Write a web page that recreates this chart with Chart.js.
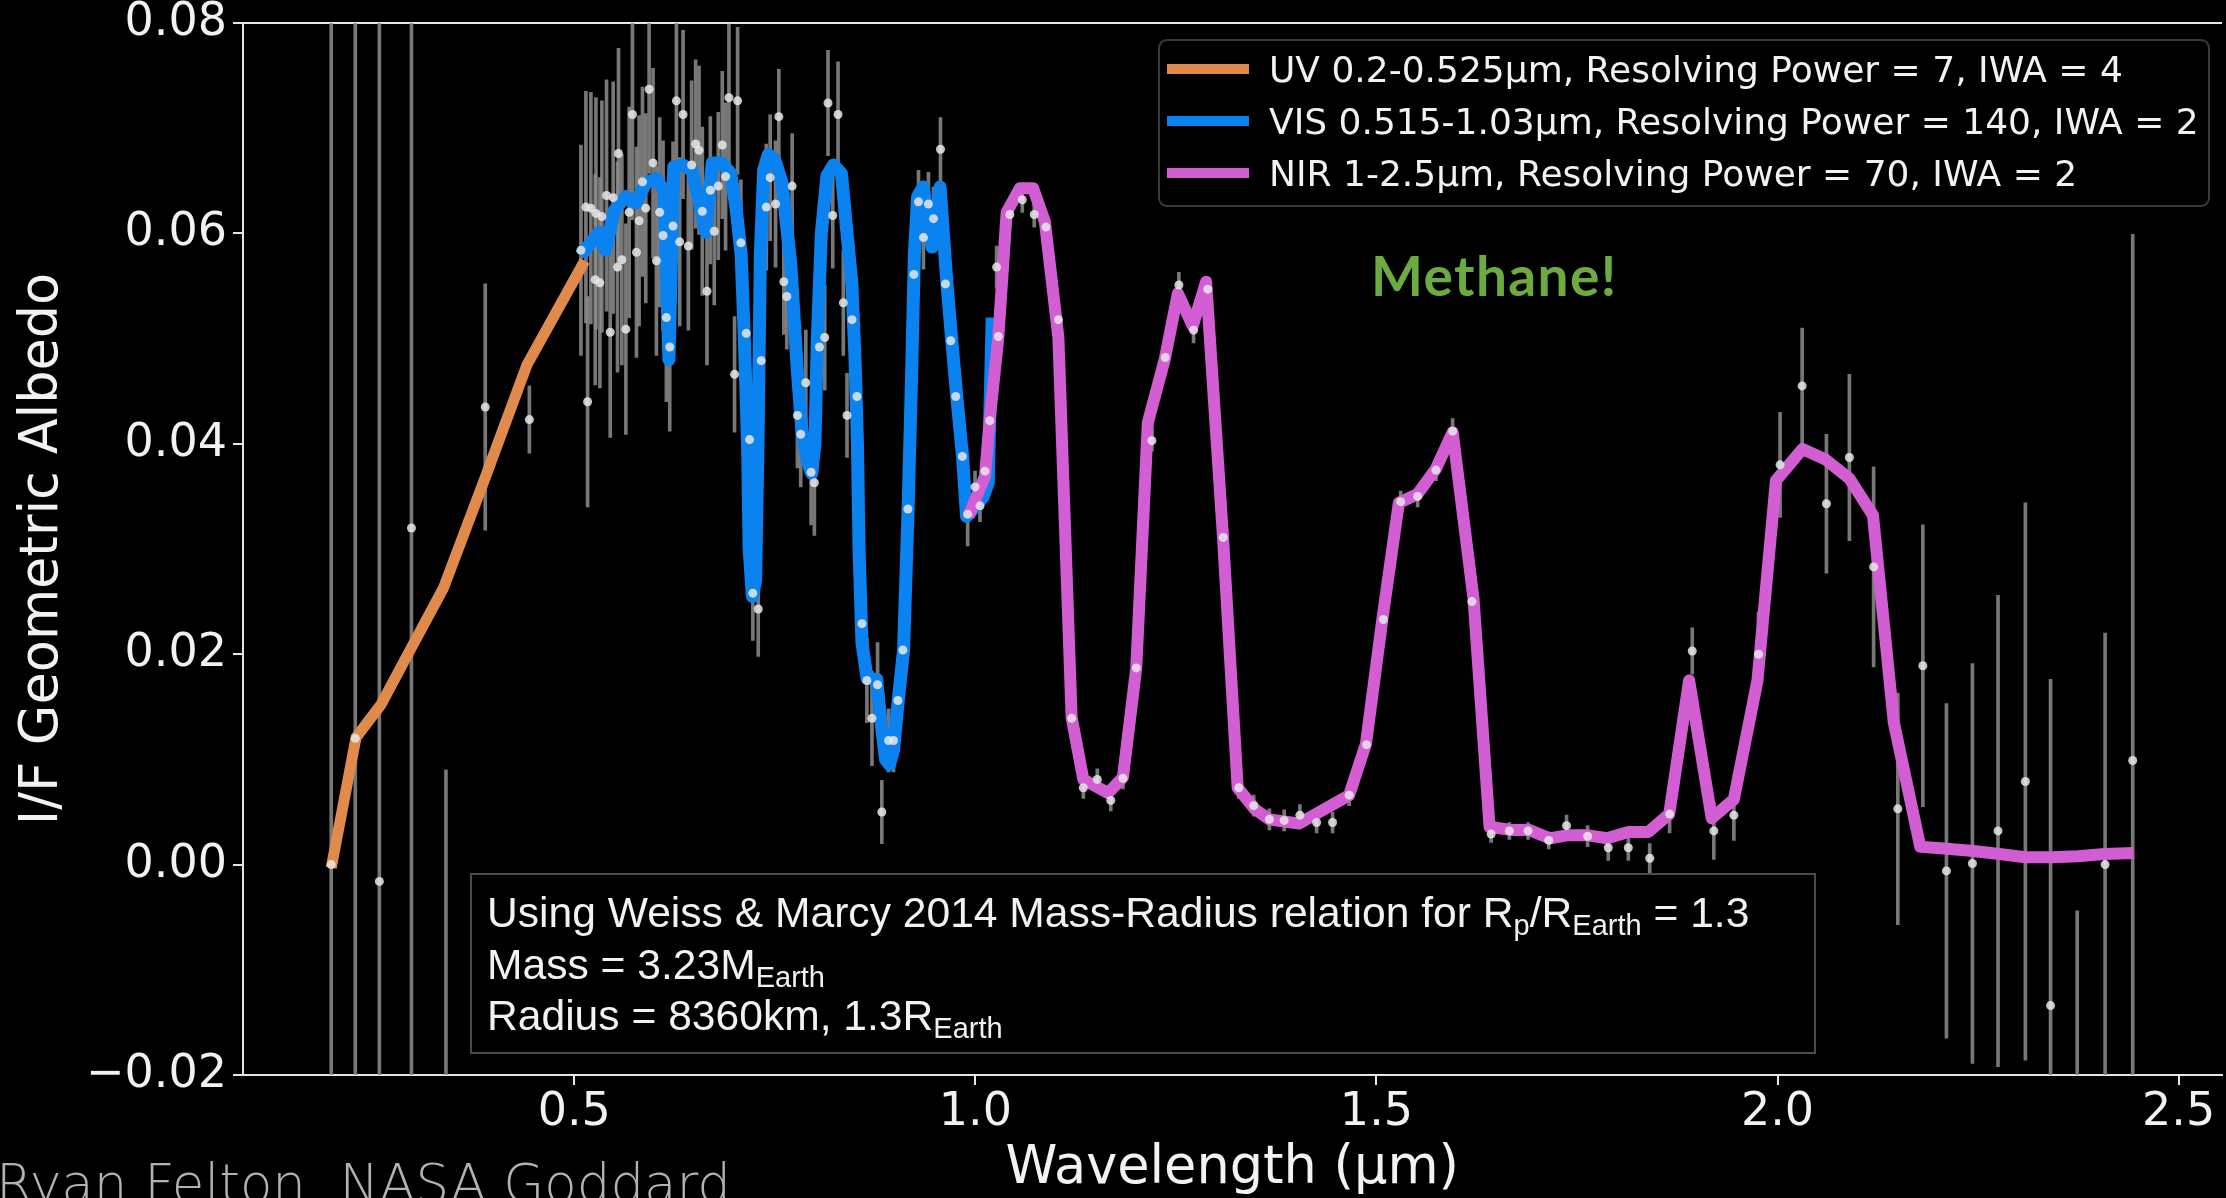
<!DOCTYPE html>
<html>
<head>
<meta charset="utf-8">
<title>I/F Geometric Albedo</title>
<script src="https://cdn.jsdelivr.net/npm/chart.js@4.4.1/dist/chart.umd.min.js"></script>
<style>
  html, body { margin: 0; padding: 0; background: #000; overflow: hidden; }
  #stage { position: relative; width: 2226px; height: 1198px; overflow: hidden; background: #000; }
  #albedo { position: absolute; left: 0; top: 0; }
  #legend {
    position: absolute; left: 1158px; top: 39px; width: 1052px; height: 168px;
    box-sizing: border-box; border: 2px solid #3a3a3a; border-radius: 9px;
    background: rgba(0, 0, 0, 0.8); padding: 2px 0 0 7px;
    font: 36px "DejaVu Sans"; color: #f2f2f2;
  }
  #legend .row { height: 52px; display: flex; align-items: center; white-space: nowrap; }
  #legend .swatch { width: 82px; height: 10px; margin-right: 20px; flex: none; }
  #note {
    position: absolute; left: 470px; top: 873px; width: 1346px; height: 181px;
    box-sizing: border-box; border: 2px solid #4a4a4a; padding: 12px 0 0 15px;
    font: 42.6px "Liberation Sans"; line-height: 51.5px; color: #f2f2f2; white-space: nowrap;
  }
  #note sub { font-size: 29px; line-height: 0; vertical-align: -8px; }
  #methane {
    position: absolute; left: 1371px; top: 248px;
    font: bold 55px Lato; line-height: 55px; letter-spacing: 1.4px; color: #6cab3f;
  }
  #credit {
    position: absolute; left: -4px; top: 1157px;
    font-family: "DejaVu Sans ExtraLight", "DejaVu Sans"; font-weight: 200; font-size: 53px;
    line-height: 53px; color: #b2b2b2; white-space: nowrap;
  }
</style>
</head>
<body>
<div id="stage">
  <canvas id="albedo" width="2226" height="1198"></canvas>
  <div id="legend"></div>
  <div id="note">Using Weiss &amp; Marcy 2014 Mass-Radius relation for R<sub>p</sub>/R<sub>Earth</sub> = 1.3<br>Mass = 3.23M<sub>Earth</sub><br>Radius = 8360km, 1.3R<sub>Earth</sub></div>
  <div id="methane">Methane!</div>
  <div id="credit">Ryan Felton, NASA Goddard</div>
</div>
<script>
// axis ticks
const xTicks = [0.5, 1.0, 1.5, 2.0, 2.5];
const yTicks = [-0.02, 0.00, 0.02, 0.04, 0.06, 0.08];

// model spectra, one per instrument channel (wavelength in µm, I/F albedo)
const uvWave   = [0.197, 0.228, 0.259, 0.289, 0.337, 0.389, 0.441, 0.513];
const uvAlbedo = [-0.0003, 0.0121, 0.0152, 0.0195, 0.0263, 0.0368, 0.0475, 0.0574];

const visWave = [0.508, 0.531, 0.539, 0.550, 0.564, 0.577, 0.589, 0.602, 0.612, 0.618,
  0.624, 0.635, 0.647, 0.664, 0.672, 0.684, 0.695, 0.702, 0.708, 0.712,
  0.716, 0.718, 0.722, 0.726, 0.729, 0.732, 0.736, 0.742, 0.750, 0.759,
  0.770, 0.778, 0.784, 0.790, 0.796, 0.800, 0.803, 0.808, 0.815, 0.823,
  0.833, 0.840, 0.846, 0.850, 0.853, 0.855, 0.8586, 0.865, 0.877, 0.8815,
  0.888, 0.893, 0.898, 0.904, 0.9105, 0.916, 0.920, 0.924, 0.928, 0.935,
  0.9458, 0.956, 0.9645, 0.9705, 0.9768, 0.984, 0.989, 0.9995, 1.010, 1.016, 1.021];
const visAlbedo = [0.0579, 0.0601, 0.0584, 0.0622, 0.0635, 0.0629, 0.0648, 0.0652, 0.0641, 0.0480,
  0.0663, 0.0665, 0.0660, 0.0601, 0.0667, 0.0667, 0.0657, 0.0622, 0.0580, 0.0500,
  0.0400, 0.0300, 0.0255, 0.0270, 0.0400, 0.0580, 0.0660, 0.0675, 0.0670, 0.0648,
  0.0570, 0.0470, 0.0410, 0.0385, 0.0372, 0.0400, 0.0500, 0.0600, 0.0655, 0.0665,
  0.0657, 0.0600, 0.0553, 0.0480, 0.0400, 0.0300, 0.0211, 0.0177, 0.0176, 0.0141,
  0.0100, 0.0095, 0.0109, 0.0157, 0.0204, 0.0334, 0.0450, 0.0580, 0.0635, 0.0644,
  0.0587, 0.0644, 0.0553, 0.0499, 0.0445, 0.0388, 0.0331, 0.0340, 0.0350, 0.0363, 0.0520];

const nirWave = [0.9913, 1.012, 1.018, 1.0286, 1.039, 1.0556, 1.072, 1.0867, 1.1035, 1.120,
  1.1346, 1.1654, 1.184, 1.2006, 1.215, 1.236, 1.2525, 1.271, 1.2877, 1.3085,
  1.327, 1.348, 1.3665, 1.385, 1.4036, 1.422, 1.466, 1.487, 1.5075, 1.528,
  1.551, 1.574, 1.595, 1.621, 1.641, 1.667, 1.690, 1.716, 1.739, 1.762,
  1.7875, 1.814, 1.839, 1.865, 1.8898, 1.918, 1.9456, 1.975, 1.998, 2.031,
  2.060, 2.0896, 2.119, 2.145, 2.178, 2.211, 2.244, 2.2765, 2.309, 2.342,
  2.3747, 2.4075, 2.4435];
const nirAlbedo = [0.0331, 0.0369, 0.0424, 0.0501, 0.0620, 0.0643, 0.0643, 0.0611, 0.0501, 0.0140,
  0.0081, 0.0068, 0.0083, 0.0187, 0.0420, 0.0480, 0.0543, 0.0512, 0.0554, 0.0314,
  0.0073, 0.0053, 0.0043, 0.0041, 0.0039, 0.0047, 0.0066, 0.0115, 0.0234, 0.0344,
  0.0352, 0.0376, 0.0411, 0.0253, 0.0036, 0.0033, 0.0033, 0.0025, 0.0028, 0.0028,
  0.0025, 0.0031, 0.0031, 0.0048, 0.0175, 0.0044, 0.0062, 0.0175, 0.0365, 0.0395,
  0.0385, 0.0367, 0.0332, 0.0135, 0.0017, 0.0015, 0.0013, 0.0010, 0.0007, 0.0007,
  0.0008, 0.0010, 0.0011];

// simulated observations with 1-sigma errors
const uvObsWave   = [0.197, 0.227, 0.257, 0.297, 0.340, 0.389, 0.444];
const uvObsAlbedo = [0.0000, 0.0120, -0.0016, 0.0320, -0.0260, 0.0435, 0.0423];
const uvObsErr    = [0.1000, 0.1000, 0.1000, 0.1000, 0.0350, 0.0117, 0.0032];

const visObsWave = [0.5083, 0.5145, 0.5166, 0.5207, 0.5261, 0.5270, 0.5319, 0.5344, 0.5402, 0.5448,
  0.5485, 0.5539, 0.5551, 0.5593, 0.5643, 0.5684, 0.5725, 0.5775, 0.5808, 0.5850,
  0.5891, 0.5933, 0.5982, 0.6024, 0.6065, 0.6107, 0.6148, 0.6190, 0.6231, 0.6273,
  0.6314, 0.6356, 0.6422, 0.6463, 0.6513, 0.6555, 0.6596, 0.6654, 0.6696, 0.6745,
  0.6795, 0.6845, 0.6886, 0.6928, 0.6998, 0.7036, 0.7077, 0.7144, 0.7185, 0.7226,
  0.7293, 0.7330, 0.7393, 0.7442, 0.7509, 0.7550, 0.7612, 0.7649, 0.7716, 0.7782,
  0.7823, 0.7886, 0.7952, 0.7993, 0.8056, 0.8122, 0.8163, 0.8222, 0.8288, 0.8354,
  0.8400, 0.8462, 0.8524, 0.8586, 0.8648, 0.8711, 0.8781, 0.8834, 0.8918, 0.8980,
  0.9034, 0.9097, 0.9159, 0.9233, 0.9291, 0.9353, 0.9415, 0.9478, 0.9565, 0.9627,
  0.9693, 0.9755, 0.9838, 0.9904];
const visObsAlbedo = [0.0584, 0.0625, 0.0440, 0.0624, 0.0556, 0.0619, 0.0553, 0.0616, 0.0636, 0.0506,
  0.0634, 0.0568, 0.0676, 0.0575, 0.0509, 0.0620, 0.0713, 0.0582, 0.0612, 0.0649,
  0.0624, 0.0737, 0.0667, 0.0574, 0.0620, 0.0598, 0.0520, 0.0492, 0.0607, 0.0726,
  0.0592, 0.0713, 0.0588, 0.0665, 0.0685, 0.0679, 0.0621, 0.0545, 0.0641, 0.0602,
  0.0645, 0.0684, 0.0654, 0.0729, 0.0466, 0.0726, 0.0591, 0.0505, 0.0404, 0.0258,
  0.0243, 0.0479, 0.0625, 0.0653, 0.0628, 0.0711, 0.0554, 0.0540, 0.0645, 0.0427,
  0.0409, 0.0458, 0.0373, 0.0363, 0.0492, 0.0501, 0.0724, 0.0617, 0.0713, 0.0534,
  0.0427, 0.0518, 0.0445, 0.0229, 0.0175, 0.0139, 0.0171, 0.0050, 0.0118, 0.0118,
  0.0156, 0.0204, 0.0338, 0.0561, 0.0630, 0.0596, 0.0628, 0.0614, 0.0680, 0.0552,
  0.0498, 0.0445, 0.0388, 0.0333];
const visObsErr = [0.010, 0.011, 0.010, 0.011, 0.010, 0.011, 0.010, 0.011, 0.011, 0.010,
  0.011, 0.010, 0.010, 0.010, 0.010, 0.010, 0.010, 0.010, 0.010, 0.009,
  0.009, 0.008, 0.009, 0.009, 0.009, 0.009, 0.008, 0.008, 0.008, 0.008,
  0.008, 0.008, 0.008, 0.008, 0.008, 0.008, 0.008, 0.007, 0.007, 0.007,
  0.007, 0.007, 0.007, 0.007, 0.0055, 0.007, 0.006, 0.006, 0.006, 0.0045,
  0.0045, 0.006, 0.006, 0.006, 0.006, 0.0045, 0.005, 0.005, 0.005, 0.005,
  0.005, 0.005, 0.005, 0.005, 0.005, 0.005, 0.005, 0.005, 0.005, 0.005,
  0.004, 0.004, 0.004, 0.004, 0.004, 0.0045, 0.004, 0.003, 0.003, 0.003,
  0.003, 0.003, 0.003, 0.003, 0.003, 0.003, 0.003, 0.003, 0.003, 0.003,
  0.003, 0.003, 0.003, 0.003];

const nirObsWave = [0.9996, 1.0058, 1.0120, 1.0180, 1.0265, 1.0286, 1.0430, 1.0585, 1.0734, 1.0880,
  1.1035, 1.1200, 1.1346, 1.1520, 1.1688, 1.1840, 1.2006, 1.2201, 1.2367, 1.2537,
  1.2720, 1.2898, 1.3090, 1.3284, 1.3470, 1.3666, 1.3850, 1.4046, 1.4254, 1.4453,
  1.4660, 1.4876, 1.5087, 1.5302, 1.5514, 1.5742, 1.5950, 1.6190, 1.6430, 1.6657,
  1.6890, 1.7148, 1.7370, 1.7633, 1.7890, 1.8140, 1.8407, 1.8655, 1.8937, 1.9206,
  1.9456, 1.9763, 2.0032, 2.0307, 2.0610, 2.0896, 2.1198, 2.1500, 2.1812, 2.2106,
  2.2430, 2.2749, 2.3090, 2.3404, 2.3736, 2.4084, 2.4428];
const nirObsAlbedo = [0.0359, 0.0341, 0.0374, 0.0422, 0.0568, 0.0502, 0.0618, 0.0632, 0.0618, 0.0606,
  0.0518, 0.0139, 0.0073, 0.0081, 0.0061, 0.0082, 0.0187, 0.0403, 0.0482, 0.0551,
  0.0508, 0.0547, 0.0311, 0.0073, 0.0056, 0.0043, 0.0042, 0.0047, 0.0040, 0.0040,
  0.0066, 0.0114, 0.0233, 0.0345, 0.0350, 0.0375, 0.0412, 0.0250, 0.0029, 0.0032,
  0.0032, 0.0023, 0.0037, 0.0027, 0.0016, 0.0016, 0.0006, 0.0048, 0.0203, 0.0032,
  0.0047, 0.0200, 0.0380, 0.0455, 0.0343, 0.0387, 0.0283, 0.0053, 0.0189, -0.0006,
  0.0001, 0.0032, 0.0079, -0.0134, -0.0400, 0.0000, 0.0099];
const nirObsErr = [0.0015, 0.0015, 0.0015, 0.0015, 0.0020, 0.0015, 0.0010, 0.0012, 0.0012, 0.0010,
  0.0010, 0.0010, 0.0010, 0.0010, 0.0010, 0.0010, 0.0010, 0.0010, 0.0010, 0.0012,
  0.0012, 0.0010, 0.0010, 0.0010, 0.0010, 0.0010, 0.0010, 0.0010, 0.0010, 0.0010,
  0.0010, 0.0010, 0.0010, 0.0010, 0.0010, 0.0010, 0.0012, 0.0010, 0.0008, 0.0008,
  0.0008, 0.0008, 0.0010, 0.0010, 0.0012, 0.0012, 0.0014, 0.0018, 0.0022, 0.0027,
  0.0024, 0.0040, 0.0050, 0.0055, 0.0066, 0.0079, 0.0095, 0.0110, 0.0134, 0.0159,
  0.0190, 0.0224, 0.0265, 0.0310, 0.0356, 0.0220, 0.0500];

const X_MIN = 0.087, X_MAX = 2.5535;
const textColor = '#f2f2f2';
const axisColor = '#e6e6e6';

Chart.defaults.font.family = 'DejaVu Sans';
Chart.defaults.color = textColor;

const points = (xs, ys) => xs.map((x, i) => ({ x: x, y: ys[i] }));
const errorBars = (xs, ys, es) => xs.map((x, i) => ({ x: x, y: [ys[i] - es[i], ys[i] + es[i]] }));

const obsWave = uvObsWave.concat(visObsWave, nirObsWave);
const obsAlbedo = uvObsAlbedo.concat(visObsAlbedo, nirObsAlbedo);
const obsErr = uvObsErr.concat(visObsErr, nirObsErr);

function spectrumLine(label, xs, ys, color, width, order) {
  return {
    type: 'line', label: label, data: points(xs, ys),
    borderColor: color, backgroundColor: color, borderWidth: width,
    pointRadius: 0, tension: 0, fill: false,
    borderJoinStyle: 'round', borderCapStyle: 'butt', order: order
  };
}

// legend lives in a div over the plot, filled from the labelled datasets
const htmlLegend = {
  id: 'htmlLegend',
  afterUpdate(chart) {
    const box = document.getElementById('legend');
    box.innerHTML = '';
    chart.data.datasets.filter(ds => ds.label).forEach(ds => {
      const row = document.createElement('div');
      row.className = 'row';
      const swatch = document.createElement('span');
      swatch.className = 'swatch';
      swatch.style.background = ds.borderColor;
      const text = document.createElement('span');
      text.textContent = ds.label;
      row.append(swatch, text);
      box.append(row);
    });
  }
};

// tick marks only, no grid across the plot (offset off: the bar dataset would centre them between ticks)
const tickGrid = {
  display: true, drawOnChartArea: false, drawTicks: true, tickLength: 10, offset: false,
  color: axisColor, lineWidth: 2, tickColor: axisColor, tickWidth: 2
};
const spine = { display: true, color: axisColor, width: 2 };
const titleFont = { size: 52.5, lineHeight: 1.08 };

new Chart(document.getElementById('albedo'), {
  type: 'line',
  data: {
    datasets: [
      {
        type: 'line', data: points(obsWave, obsAlbedo), showLine: false,
        pointRadius: 4.5, pointHoverRadius: 0, pointBorderWidth: 0,
        pointBackgroundColor: 'rgba(232, 232, 232, 0.85)', order: 0
      },
      spectrumLine('UV 0.2-0.525µm, Resolving Power = 7, IWA = 4', uvWave, uvAlbedo, '#e08a4c', 11, 3),
      spectrumLine('VIS 0.515-1.03µm, Resolving Power = 140, IWA = 2', visWave, visAlbedo, '#0a82f0', 13, 2),
      spectrumLine('NIR 1-2.5µm, Resolving Power = 70, IWA = 2', nirWave, nirAlbedo, '#d35ed3', 12, 1),
      {
        type: 'bar', data: errorBars(obsWave, obsAlbedo, obsErr),
        backgroundColor: 'rgba(140, 140, 140, 0.85)', borderWidth: 0,
        barThickness: 3, grouped: false, order: 5
      }
    ]
  },
  plugins: [htmlLegend],
  options: {
    responsive: false,
    animation: false,
    events: [],
    devicePixelRatio: 1,
    layout: { padding: { top: 23, right: 0, bottom: 0, left: 0 } },
    plugins: { legend: { display: false }, tooltip: { enabled: false } },
    scales: {
      x: {
        type: 'linear', position: 'bottom', min: X_MIN, max: X_MAX, offset: false,
        afterBuildTicks: s => { s.ticks = xTicks.map(v => ({ value: v })); },
        afterFit: s => { s.height = 123; s.paddingLeft = 0; s.paddingRight = 0; },
        ticks: {
          color: textColor, font: { size: 46 }, padding: 0,
          maxRotation: 0, autoSkip: false, callback: v => v.toFixed(1)
        },
        grid: tickGrid,
        border: spine,
        title: {
          display: true, text: 'Wavelength (µm)', color: textColor,
          font: titleFont, padding: { top: 0, bottom: 0 }
        }
      },
      xTop: {
        type: 'linear', position: 'top', min: X_MIN, max: X_MAX, offset: false,
        ticks: { display: false },
        grid: { display: true, drawOnChartArea: false, drawTicks: false, offset: false },
        border: spine,
        afterFit: s => { s.height = 0; s.paddingLeft = 0; s.paddingRight = 0; }
      },
      y: {
        type: 'linear', position: 'left', min: -0.02, max: 0.08,
        afterBuildTicks: s => { s.ticks = yTicks.map(v => ({ value: v })); },
        afterFit: s => { s.width = 243; s.paddingTop = 0; s.paddingBottom = 0; },
        ticks: {
          color: textColor, font: { size: 46 }, padding: 6,
          callback: v => (v < 0 ? '\u2212' : '') + Math.abs(v).toFixed(2)
        },
        grid: tickGrid,
        border: spine,
        title: {
          display: true, text: 'I/F Geometric Albedo', color: textColor,
          font: titleFont, padding: { top: 15, bottom: 0 }
        }
      }
    }
  }
});
</script>
</body>
</html>
